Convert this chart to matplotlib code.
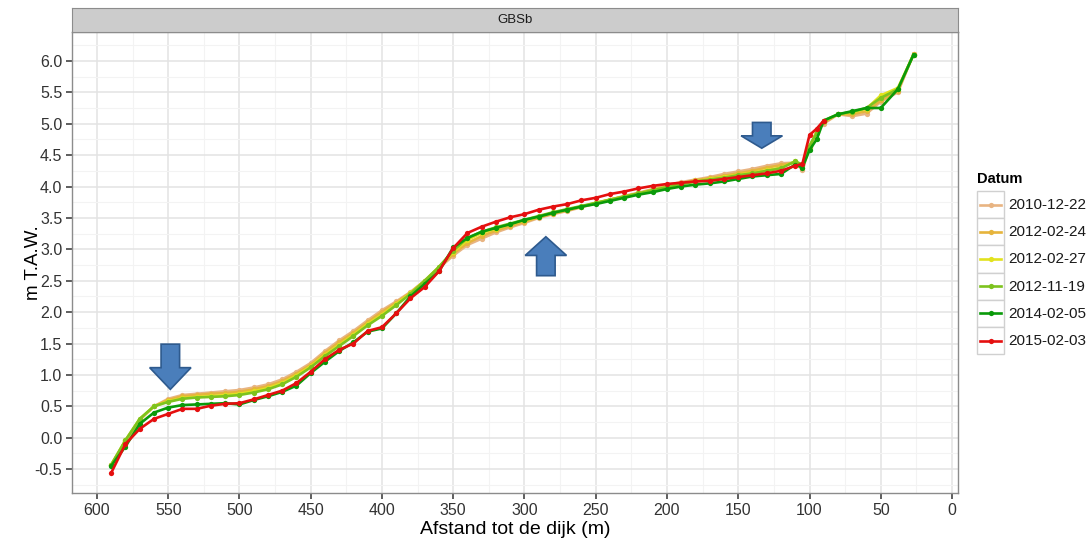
import numpy as np
import matplotlib.pyplot as plt
from matplotlib.patches import Polygon, Rectangle
from matplotlib.lines import Line2D
from matplotlib.ticker import MultipleLocator

plt.rcParams['font.family'] = ['Liberation Sans', 'DejaVu Sans']

# afstand tot de dijk (m)
afstand = [590, 580, 570, 560, 550, 540, 530, 520, 510, 500,
           490, 480, 470, 460, 450, 440, 430, 420, 410, 400,
           390, 380, 370, 360, 350, 340, 330, 320, 310, 300,
           290, 280, 270, 260, 250, 240, 230, 220, 210, 200,
           190, 180, 170, 160, 150, 140, 130, 120, 110,
           105, 100, 95, 90, 80, 70, 60, 50, 38, 27]

datums = ['2010-12-22', '2012-02-24', '2012-02-27',
          '2012-11-19', '2014-02-05', '2015-02-03']
kleuren = ['#E8B482', '#E6B43C', '#E2E21E', '#7DC31E', '#0A9A0A', '#E50F0F']

h_2010_12_22 = [-0.44, -0.06, 0.28, 0.50, 0.62, 0.68, 0.70, 0.72, 0.74, 0.76,
                0.80, 0.85, 0.93, 1.05, 1.19, 1.38, 1.55, 1.70, 1.87, 2.03,
                2.17, 2.32, 2.50, 2.70, 2.90, 3.07, 3.17, 3.27, 3.35, 3.42,
                3.50, 3.56, 3.61, 3.67, 3.73, 3.79, 3.85, 3.90, 3.96, 4.02,
                4.07, 4.11, 4.15, 4.20, 4.24, 4.28, 4.33, 4.37, 4.38,
                4.26, 4.62, 4.88, 5.00, 5.15, 5.12, 5.16, 5.35, 5.50, 6.11]
h_2012_02_24 = [-0.44, -0.05, 0.29, 0.50, 0.60, 0.66, 0.68, 0.70, 0.71, 0.73,
                0.77, 0.82, 0.90, 1.02, 1.16, 1.35, 1.52, 1.67, 1.84, 2.00,
                2.15, 2.31, 2.50, 2.71, 2.93, 3.10, 3.21, 3.30, 3.37, 3.44,
                3.51, 3.57, 3.62, 3.68, 3.73, 3.79, 3.84, 3.89, 3.95, 4.00,
                4.05, 4.10, 4.13, 4.17, 4.21, 4.25, 4.30, 4.34, 4.38,
                4.30, 4.63, 4.86, 5.02, 5.15, 5.15, 5.20, 5.37, 5.52, 6.11]
h_2012_02_27 = [-0.43, -0.04, 0.30, 0.50, 0.58, 0.63, 0.65, 0.66, 0.68, 0.70,
                0.74, 0.79, 0.87, 0.99, 1.14, 1.32, 1.48, 1.64, 1.81, 1.96,
                2.13, 2.30, 2.50, 2.72, 2.96, 3.15, 3.26, 3.33, 3.40, 3.46,
                3.52, 3.58, 3.63, 3.68, 3.74, 3.79, 3.84, 3.89, 3.94, 3.99,
                4.04, 4.08, 4.12, 4.15, 4.19, 4.22, 4.26, 4.30, 4.40,
                4.33, 4.64, 4.86, 5.04, 5.15, 5.18, 5.24, 5.45, 5.57, 6.10]
h_2012_11_19 = [-0.43, -0.04, 0.30, 0.50, 0.57, 0.62, 0.64, 0.65, 0.66, 0.68,
                0.72, 0.77, 0.85, 0.97, 1.12, 1.30, 1.46, 1.62, 1.79, 1.94,
                2.11, 2.29, 2.50, 2.72, 2.98, 3.18, 3.28, 3.35, 3.41, 3.47,
                3.53, 3.59, 3.64, 3.69, 3.74, 3.79, 3.84, 3.89, 3.94, 3.99,
                4.04, 4.08, 4.11, 4.14, 4.18, 4.21, 4.25, 4.29, 4.40,
                4.35, 4.65, 4.85, 5.05, 5.15, 5.19, 5.25, 5.41, 5.55, 6.10]
h_2014_02_05 = [-0.45, -0.14, 0.22, 0.40, 0.48, 0.52, 0.53, 0.54, 0.55, 0.53,
                0.60, 0.66, 0.73, 0.83, 1.03, 1.21, 1.38, 1.52, 1.69, 1.74,
                1.98, 2.25, 2.45, 2.65, 3.03, 3.18, 3.28, 3.34, 3.40, 3.47,
                3.52, 3.58, 3.63, 3.68, 3.72, 3.77, 3.82, 3.87, 3.91, 3.96,
                4.00, 4.03, 4.05, 4.08, 4.12, 4.16, 4.18, 4.20, 4.35,
                4.30, 4.58, 4.75, 5.05, 5.15, 5.20, 5.25, 5.25, 5.55, 6.10]
h_2015_02_03 = [-0.56, -0.10, 0.14, 0.30, 0.38, 0.46, 0.46, 0.51, 0.54, 0.55,
                0.61, 0.68, 0.75, 0.87, 1.05, 1.25, 1.40, 1.50, 1.70, 1.76,
                1.98, 2.22, 2.40, 2.65, 3.02, 3.26, 3.36, 3.44, 3.51, 3.56,
                3.63, 3.68, 3.72, 3.78, 3.82, 3.88, 3.92, 3.97, 4.01, 4.04,
                4.06, 4.08, 4.09, 4.12, 4.15, 4.18, 4.21, 4.25, 4.33,
                4.36, 4.82, 4.92, 5.05, np.nan, np.nan, np.nan, np.nan, np.nan, np.nan]

hoogtes = [h_2010_12_22, h_2012_02_24, h_2012_02_27,
           h_2012_11_19, h_2014_02_05, h_2015_02_03]

# pijlen: (afstand, top, punt) in data-eenheden
pijlen = [(548.5, 1.49, 0.77), (285.0, 2.58, 3.20), (133.5, 5.02, 4.61)]

W, H = 1091, 543
fig = plt.figure(figsize=(W / 100, H / 100), dpi=100)
ax = fig.add_axes([72 / W, 1 - 493 / H, 886 / W, 461 / H])

for i, (d, h, c) in enumerate(zip(datums, hoogtes, kleuren)):
    ax.plot(afstand, h, color=c, lw=1.9, marker='o', ms=3.8, mew=0,
            zorder=3 + i, label=d)

ax.set_xlim(617.5, -4.2)
ax.set_ylim(-0.88, 6.46)
ax.xaxis.set_major_locator(MultipleLocator(50))
ax.xaxis.set_minor_locator(MultipleLocator(25))
ax.yaxis.set_major_locator(MultipleLocator(0.5))
ax.yaxis.set_minor_locator(MultipleLocator(0.25))
ax.yaxis.set_major_formatter(lambda v, p: f'{v:.1f}')
ax.grid(which='major', color='#E3E3E3', lw=1.1, zorder=0)
ax.grid(which='minor', color='#F3F3F3', lw=0.8, zorder=0)
ax.tick_params(which='major', length=4, width=1.1, color='#333333',
               labelsize=11.5, labelcolor='#333333', pad=3)
ax.tick_params(which='minor', length=0)
for s in ax.spines.values():
    s.set_color('#8C8C8C')
    s.set_linewidth(1.0)
ax.set_xlabel('Afstand tot de dijk (m)', fontsize=14, labelpad=2)
ax.set_ylabel('m T.A.W.', fontsize=13.5)
ax.yaxis.set_label_coords(-0.034, 0.5)

# blauwe blokpijlen
for x0, top, tip in pijlen:
    sign = 1 if tip < top else -1
    lengte = abs(top - tip)
    kop = tip + sign * lengte * 0.48
    hw, sw = 14.5, 6.5
    pts = [(x0 - sw, top), (x0 + sw, top), (x0 + sw, kop), (x0 + hw, kop),
           (x0, tip), (x0 - hw, kop), (x0 - sw, kop)]
    ax.add_patch(Polygon(pts, closed=True, fc='#4A7EBB', ec='#2E5A8E',
                         lw=1.2, zorder=10))

# facet strip
sax = fig.add_axes([72 / W, 1 - 32 / H, 886 / W, 24 / H])
sax.set_facecolor('#CCCCCC')
sax.set_xticks([])
sax.set_yticks([])
for s in sax.spines.values():
    s.set_color('#8C8C8C')
sax.text(0.5, 0.5, 'GBSb', ha='center', va='center', fontsize=9.5,
         color='#1A1A1A', transform=sax.transAxes)

# legende
lax = fig.add_axes([0, 0, 1, 1])
lax.set_xlim(0, W)
lax.set_ylim(H, 0)
lax.axis('off')
lax.text(977, 179, 'Datum', fontsize=10.5, fontweight='bold', va='center')
for i, (d, c) in enumerate(zip(datums, kleuren)):
    y0 = 191 + i * 27.2
    lax.add_patch(Rectangle((977, y0), 27, 27.2, fc='white', ec='#D0D0D0', lw=1))
    lax.add_line(Line2D([980, 1001], [y0 + 13.6] * 2, color=c, lw=1.9))
    lax.plot([990.5], [y0 + 13.6], 'o', color=c, ms=3.8, mew=0)
    lax.text(1008, y0 + 14, d, fontsize=11, va='center', color='#1A1A1A')

fig.savefig('out.png', dpi=100)
